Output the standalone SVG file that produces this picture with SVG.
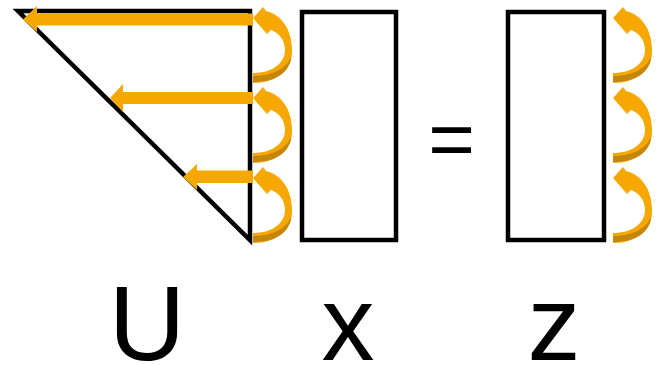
<svg xmlns="http://www.w3.org/2000/svg" width="657" height="365" viewBox="0 0 657 365">
<defs>
<style>
.ln{fill:none;stroke:#000;stroke-width:4.5;stroke-linejoin:miter}
.or{fill:#F6A800}
.dk{fill:#C4870B}
.lbl{font-family:"Liberation Sans",Arial,sans-serif;font-size:106px;fill:#000;text-anchor:middle}
</style>
<g id="curl">
<path class="or" d="M0,10 L10,-1 L13,3 C27,6 39,20 39,42 C39,62 24,75 0,75 L0,65 C18,65 32,56 32,42 C32,32 26,25 18,22 L14,26 Z"/>
<path class="dk" d="M0,68 C20,68 34,60 38.5,48 C37,65 22,74 0,74 Z"/>
</g>
</defs>
<rect width="657" height="365" fill="#fff"/>
<g id="U">
<polygon class="ln" points="18,11 250,11 250,240"/>
</g>
<g id="x">
<rect class="ln" x="302" y="12" width="94" height="228"/>
</g>
<g id="z">
<rect class="ln" x="508" y="12" width="96" height="228"/>
</g>
<g id="connectors">
<path class="or" d="M253,13.5 L37,13.5 L37,6 L23,19.5 L37,32 L37,25.5 L253,25.5 Z"/>
<path class="or" d="M253,92 L123,92 L123,84 L110,98 L123,112 L123,104 L253,104 Z"/>
<path class="or" d="M253,170.5 L197,170.5 L197,164 L183,177 L197,190 L197,183 L253,183 Z"/>
<use href="#curl" transform="translate(253,8)"/>
<use href="#curl" transform="translate(253,88)"/>
<use href="#curl" transform="translate(253,168)"/>
<use href="#curl" transform="translate(613,8)"/>
<use href="#curl" transform="translate(613,88)"/>
<use href="#curl" transform="translate(613,168)"/>
</g>
<g id="labels">
<text class="lbl" x="147" y="360">U</text>
<text class="lbl" x="348" y="360">x</text>
<text class="lbl" x="554" y="360">z</text>
<text class="lbl" x="451.5" y="166" style="font-size:80px">=</text>
</g>
</svg>
